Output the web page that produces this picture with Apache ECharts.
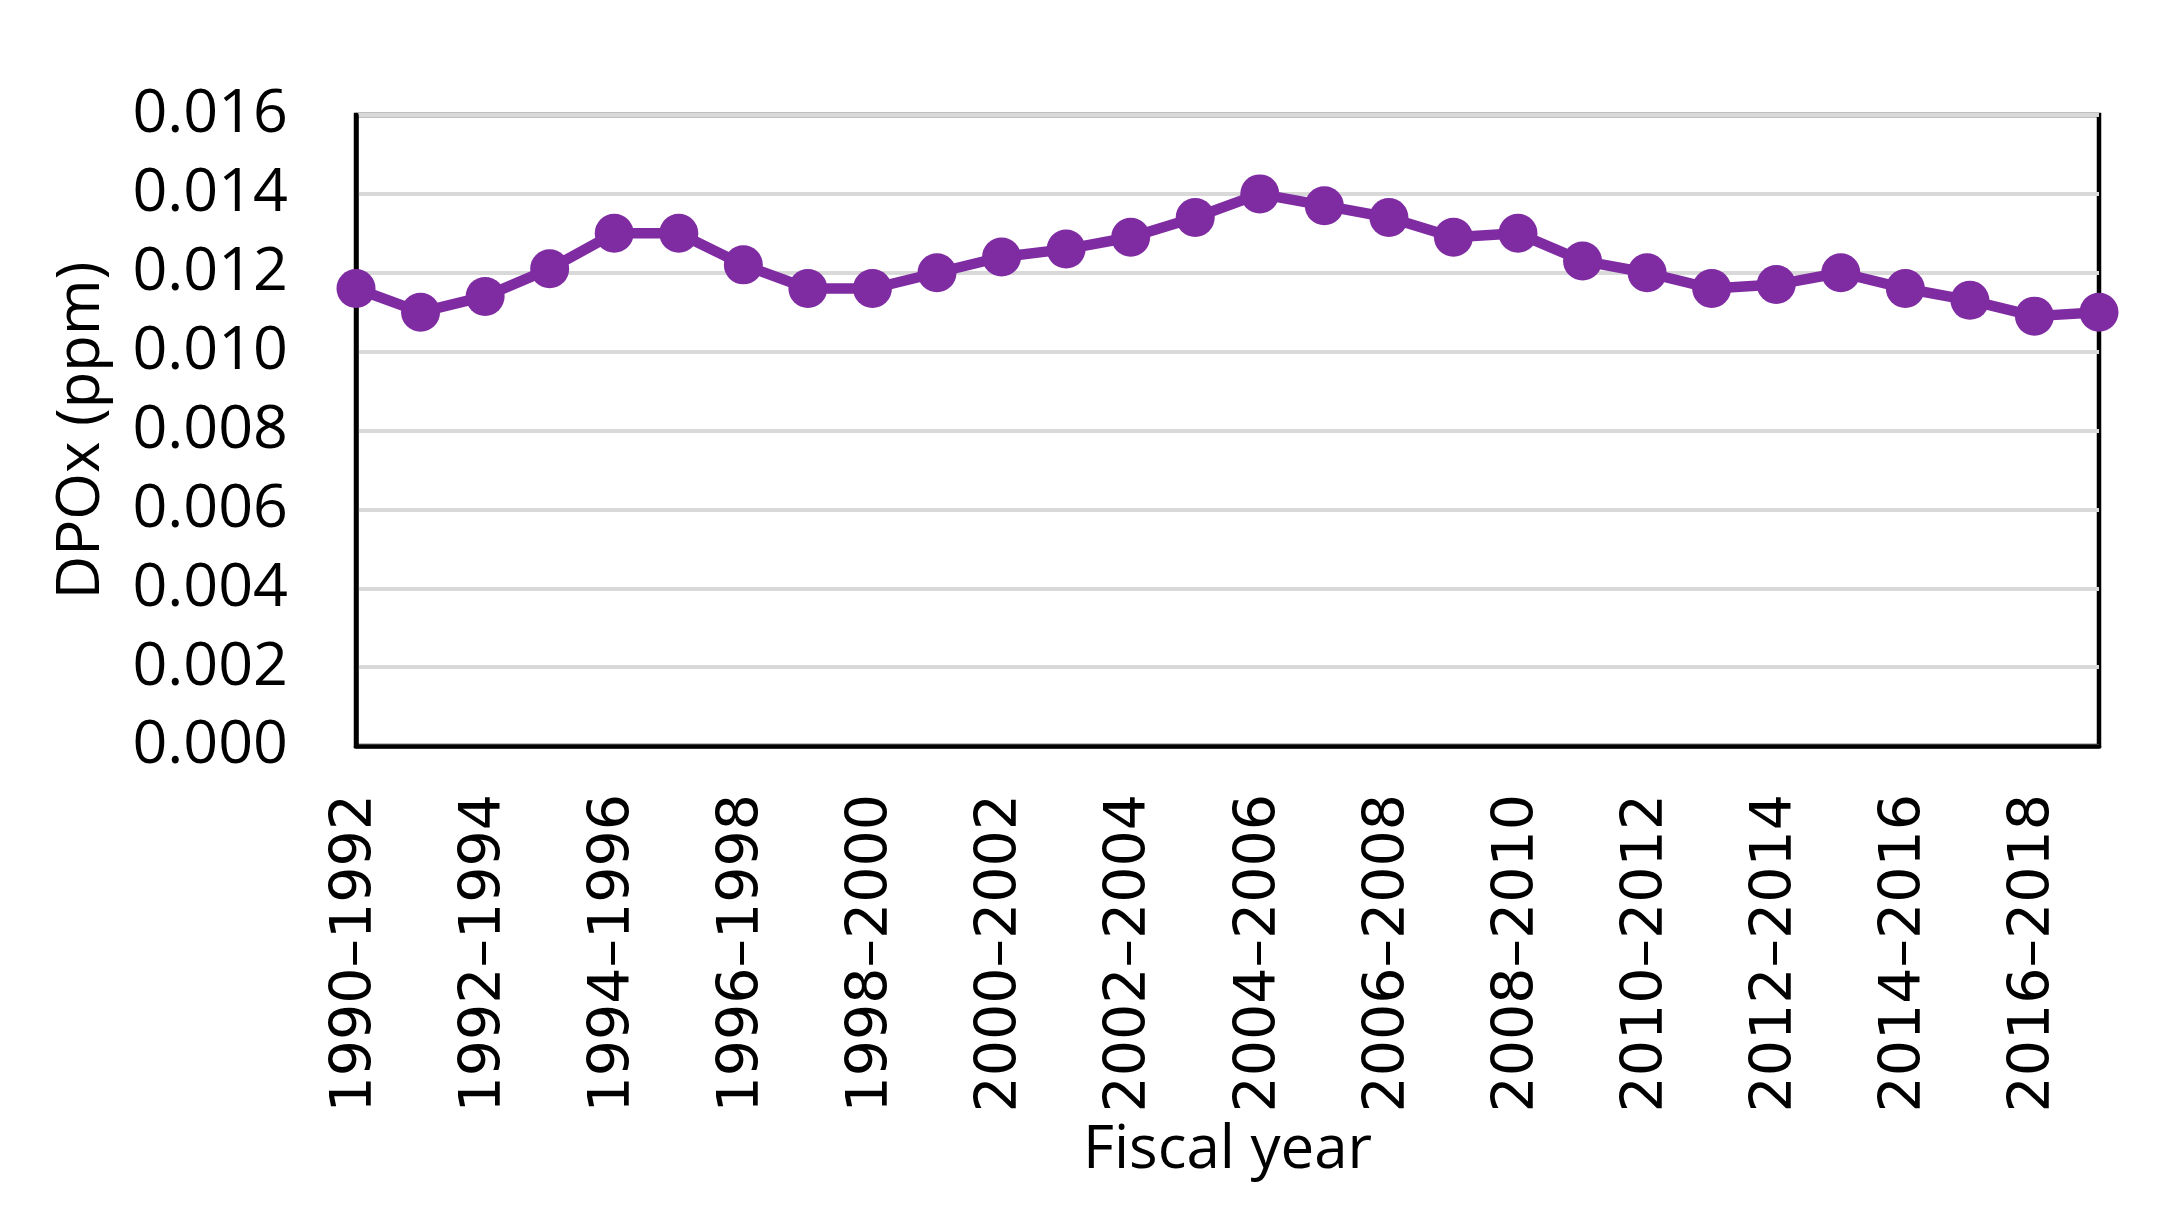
<!DOCTYPE html>
<html>
<head>
<meta charset="utf-8">
<script src="https://cdn.jsdelivr.net/npm/echarts@6/dist/echarts.min.js"></script>
<style>
html,body{margin:0;padding:0;background:#fff;}
#chart{width:2164px;height:1231px;}
</style>
</head>
<body>
<div id="chart"></div>
<script>
const categories = ["1990–1992","1991–1993","1992–1994","1993–1995","1994–1996","1995–1997","1996–1998","1997–1999","1998–2000","1999–2001","2000–2002","2001–2003","2002–2004","2003–2005","2004–2006","2005–2007","2006–2008","2007–2009","2008–2010","2009–2011","2010–2012","2011–2013","2012–2014","2013–2015","2014–2016","2015–2017","2016–2018","2017–2019"];
const dpox = [0.0116,0.0110,0.0114,0.0121,0.0130,0.0130,0.0122,0.0116,0.0116,0.0120,0.0124,0.0126,0.0129,0.0134,0.0140,0.0137,0.0134,0.0129,0.0130,0.0123,0.0120,0.0116,0.0117,0.0120,0.0116,0.0113,0.0109,0.0110];
const yTicks = {min:0, max:0.016, interval:0.002};
const yAxisTitle = "DPOx (ppm)";
const xAxisTitle = "Fiscal year";

const chart = echarts.init(document.getElementById('chart'));
chart.setOption({
  backgroundColor:'#ffffff',
  animation:false,
  grid:{left:356,right:65,top:115,bottom:485,show:true,borderColor:'#000',borderWidth:4.5,backgroundColor:'transparent'},
  xAxis:{
    type:'category',
    data:categories,
    boundaryGap:false,
    name:xAxisTitle,
    nameLocation:'middle',
    nameGap:370,
    nameTextStyle:{fontFamily:'Open Sans',fontSize:60,color:'#000'},
    axisLine:{show:true,lineStyle:{color:'#000',width:4.5}},
    axisTick:{show:false},
    axisLabel:{interval:1,rotate:90,margin:48,fontFamily:'DejaVu Sans',fontSize:57,color:'#000'},
    splitLine:{show:false}
  },
  yAxis:{
    type:'value',
    min:yTicks.min,max:yTicks.max,interval:yTicks.interval,
    name:yAxisTitle,
    nameLocation:'middle',
    nameGap:244,
    nameTextStyle:{fontFamily:'Open Sans',fontSize:60,color:'#000'},
    axisLine:{show:true,lineStyle:{color:'#000',width:4.5}},
    axisTick:{show:false},
    axisLabel:{margin:68,fontFamily:'Open Sans',fontSize:61,color:'#000',formatter:v=>v.toFixed(3)},
    splitLine:{show:true,lineStyle:{color:'#D9D9D9',width:4}}
  },
  series:[{
    type:'line',
    data:dpox,
    clip:false,
    symbol:'circle',
    symbolSize:39,
    itemStyle:{color:'#7F2BA1'},
    lineStyle:{color:'#7F2BA1',width:10.5}
  }]
});
</script>
</body>
</html>
